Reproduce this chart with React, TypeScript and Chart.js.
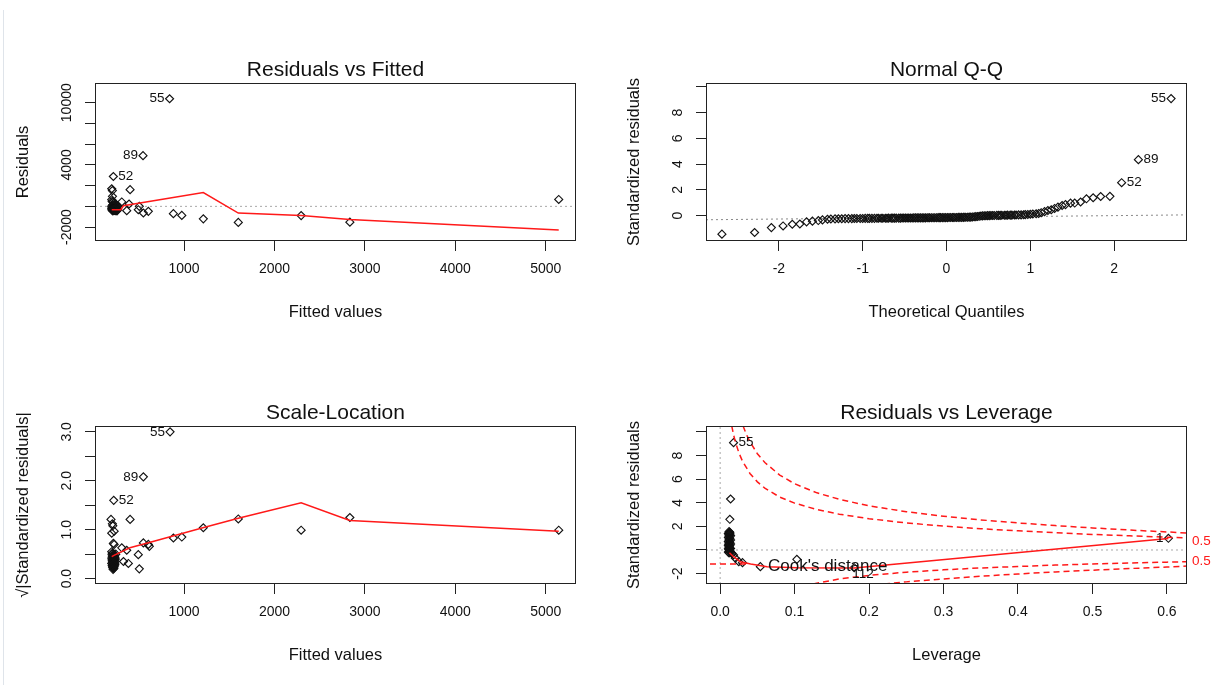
import React, { useEffect, useRef } from "react";
import { Chart, registerables } from "chart.js";

Chart.register(...registerables);

// ---------------- Residuals vs Fitted ----------------
const RVF_FITTED = [840, 546, 218, 200, 207, 403, 208, 200, 311, 392, 505, 366, 494, 550, 605, 882, 975, 1213, 1600, 2295, 2834, 5144,
  205, 215, 225, 240, 250, 210, 230, 260, 200, 218, 235, 248, 205, 222, 240, 255, 200, 212, 228, 245, 262, 208, 220, 232, 250,
  203, 215, 226, 238, 252, 266, 210, 222, 236, 248, 205, 218, 230, 244, 258, 212, 228, 240, 255, 270];
const RVF_RESID = [10380, 4890, 2880, 1700, 1520, 1610, 970, 650, 425, 230, 0, -415, -320, -640, -480, -705, -870, -1200, -1545, -889, -1524, 667,
  480, 420, 300, 250, 180, 150, 90, 60, 20, 0, -40, -80, -100, -120, -150, -170, -190, -200, -220, -230, -240, -250, -260, -270, -280,
  -290, -300, -305, -310, -320, -330, -335, -340, -350, -360, -370, -380, -395, -410, -430, -450, -300, -200, -100, 30];
const RVF_LABEL_IDS = ["55", "89", "52"];
const RVF_SMOOTH_X = [200, 300, 330, 1213, 1600, 2295, 2834, 5144];
const RVF_SMOOTH_Y = [-320, -320, 60, 1330, -650, -890, -1270, -2290];
const RVF_ZERO_X = [15, 5335];
const RVF_ZERO_Y = [0, 0];
const FITTED_X_TICKS = [1000, 2000, 3000, 4000, 5000];
const FITTED_X_LABELS = ["1000", "2000", "3000", "4000", "5000"];
const RVF_Y_TICKS = [-2000, 0, 2000, 4000, 6000, 8000, 10000];
const RVF_Y_LABELS = ["-2000", "", "", "4000", "", "", "10000"];

// ---------------- Normal Q-Q ----------------
const QQ_THEORETICAL = [
  -2.68, -2.29, -2.09, -1.95, -1.84, -1.75, -1.67, -1.60, -1.53, -1.48,
  -1.42, -1.38, -1.33, -1.29, -1.25, -1.21, -1.17, -1.13, -1.10, -1.07,
  -1.03, -1.00, -0.97, -0.94, -0.92, -0.89, -0.86, -0.83, -0.81, -0.78,
  -0.76, -0.73, -0.71, -0.69, -0.66, -0.64, -0.62, -0.60, -0.57, -0.55,
  -0.53, -0.51, -0.49, -0.47, -0.45, -0.43, -0.41, -0.39, -0.37, -0.35,
  -0.33, -0.31, -0.29, -0.27, -0.25, -0.23, -0.21, -0.20, -0.18, -0.16,
  -0.14, -0.12, -0.10, -0.08, -0.07, -0.05, -0.03, -0.01,
  0.01, 0.03, 0.05, 0.07, 0.08, 0.10, 0.12, 0.14, 0.16, 0.18,
  0.20, 0.21, 0.23, 0.25, 0.27, 0.29, 0.31, 0.33, 0.35, 0.37,
  0.39, 0.41, 0.43, 0.45, 0.47, 0.49, 0.51, 0.53, 0.55, 0.57,
  0.60, 0.62, 0.64, 0.66, 0.69, 0.71, 0.73, 0.76, 0.78, 0.81,
  0.83, 0.86, 0.89, 0.92, 0.94, 0.97, 1.00, 1.03, 1.07, 1.10,
  1.13, 1.17, 1.21, 1.25, 1.29, 1.33, 1.38, 1.42, 1.48, 1.53,
  1.60, 1.67, 1.75, 1.84, 1.95, 2.09, 2.29, 2.68];
const QQ_STD_RESID = [
  -1.45, -1.32, -0.94, -0.81, -0.68, -0.66, -0.49, -0.44, -0.39, -0.34, -0.29, -0.27, -0.26, -0.25, -0.25,
  -0.24, -0.24, -0.24, -0.23, -0.23, -0.23, -0.23, -0.22, -0.22, -0.22,
  -0.22, -0.22, -0.21, -0.21, -0.21, -0.21, -0.21, -0.21, -0.20, -0.20,
  -0.20, -0.20, -0.20, -0.20, -0.20, -0.19, -0.19, -0.19, -0.19, -0.19,
  -0.19, -0.19, -0.18, -0.18, -0.18, -0.18, -0.18, -0.18, -0.18, -0.18,
  -0.17, -0.17, -0.17, -0.17, -0.17, -0.17, -0.17, -0.16, -0.16, -0.16,
  -0.16, -0.16, -0.16, -0.16, -0.15, -0.15, -0.15, -0.15, -0.15, -0.15,
  -0.14, -0.14, -0.14, -0.14, -0.13, -0.13, -0.13, -0.12, -0.12, -0.11,
  -0.10, -0.09, -0.08, -0.06,
  -0.04, -0.03, -0.02, -0.02, -0.01, -0.01, 0.0, 0.0, 0.0, 0.01, 0.01, 0.01, 0.02, 0.02, 0.02,
  0.03, 0.03, 0.03, 0.04, 0.04, 0.05, 0.05, 0.06, 0.07, 0.08,
  0.10, 0.12, 0.14, 0.16, 0.22, 0.30, 0.39, 0.45, 0.55, 0.65, 0.78, 0.85, 0.96, 0.97, 1.05,
  1.30, 1.38, 1.48, 1.49, 2.55, 4.34, 9.09];
const QQ_LINE_X = [-2.87, 2.87];
const QQ_LINE_Y = [-0.33, 0.05];
const QQ_X_TICKS = [-2, -1, 0, 1, 2];
const QQ_X_LABELS = ["-2", "-1", "0", "1", "2"];
const QQ_Y_TICKS = [0, 2, 4, 6, 8, 10];
const QQ_Y_LABELS = ["0", "2", "4", "6", "8", ""];

// ---------------- Scale-Location ----------------
const SL_FITTED = [845, 550, 222, 192, 207, 212, 403, 200, 227, 218, 227, 311, 366, 330, 384, 505, 494, 550, 605, 616, 882, 975, 1213, 1600, 2295, 2834, 5144,
  200, 210, 220, 230, 205, 215, 225, 235, 200, 212, 222, 232, 203, 214, 226, 238, 207, 218, 229, 200,
  211, 222, 233, 205, 216, 227, 209, 220, 212, 224, 215, 230, 240, 245, 236, 203, 219];
const SL_SQRT_STD = [3.0, 2.08, 1.6, 1.21, 1.12, 1.08, 1.21, 0.93, 0.97, 0.72, 0.70, 0.63, 0.58, 0.35, 0.31, 0.20, 0.49, 0.73, 0.70, 0.66, 0.83, 0.85, 1.04, 1.22, 0.99, 1.25, 0.99,
  0.55, 0.52, 0.50, 0.48, 0.46, 0.45, 0.44, 0.43, 0.42, 0.41, 0.40, 0.39, 0.38, 0.37, 0.36, 0.35, 0.34, 0.33, 0.32, 0.31,
  0.30, 0.29, 0.28, 0.27, 0.26, 0.25, 0.24, 0.23, 0.22, 0.21, 0.19, 0.45, 0.40, 0.50, 0.30, 0.50, 0.47];
const SL_SMOOTH_X = [200, 230, 401, 656, 1208, 1611, 2295, 2834, 5144];
const SL_SMOOTH_Y = [0.45, 0.48, 0.63, 0.76, 1.04, 1.24, 1.55, 1.19, 0.97];
const SL_Y_TICKS = [0, 0.5, 1, 1.5, 2, 2.5, 3];
const SL_Y_LABELS = ["0.0", "", "1.0", "", "2.0", "", "3.0"];

// ---------------- Residuals vs Leverage ----------------
const RVL_LEVERAGE = [0.018, 0.014, 0.013, 0.602, 0.18, 0.103, 0.054, 0.030, 0.025, 0.0205, 0.018, 0.016,
  0.012, 0.013, 0.012, 0.013, 0.012, 0.013, 0.012, 0.012, 0.013, 0.012,
  0.012, 0.013, 0.012, 0.012, 0.013, 0.012, 0.012, 0.013, 0.012, 0.012,
  0.013, 0.012, 0.013, 0.014, 0.012, 0.015, 0.011, 0.011, 0.011, 0.011,
  0.011, 0.011, 0.014, 0.014, 0.014, 0.014];
const RVL_STD_RESID = [9.09, 4.32, 2.60, 0.99, -1.50, -0.79, -1.41, -1.07, -0.99, -0.70, -0.42, -0.30,
  1.55, 1.50, 1.46, 1.40, 1.35, 1.30, 1.22, 1.12, 1.00, 0.90,
  0.78, 0.65, 0.55, 0.45, 0.38, 0.30, 0.22, 0.15, 0.08, 0.02,
  -0.04, -0.10, -0.15, -0.20, -0.24, -0.26, -0.18, 0.10, 0.40, 0.70,
  1.05, 1.38, 1.20, 0.85, 0.50, 0.12];
const RVL_SMOOTH_X = [0.0125, 0.018, 0.027, 0.041, 0.063, 0.103, 0.18, 0.602];
const RVL_SMOOTH_Y = [-0.23, -0.57, -0.99, -1.19, -1.41, -1.50, -1.52, 0.97];
const COOK_UP_05_LEV = [0.0156, 0.018, 0.02, 0.025, 0.03, 0.04, 0.05, 0.06, 0.08, 0.1, 0.13, 0.16, 0.2, 0.25, 0.3, 0.35, 0.4, 0.45, 0.5, 0.55, 0.6, 0.627];
const COOK_UP_05_STD = [10.5, 9.77, 9.26, 8.26, 7.52, 6.48, 5.77, 5.24, 4.48, 3.97, 3.42, 3.03, 2.65, 2.29, 2.02, 1.80, 1.62, 1.46, 1.32, 1.20, 1.08, 1.02];
const COOK_UP_1_LEV = [0.0308, 0.035, 0.04, 0.05, 0.06, 0.08, 0.1, 0.13, 0.16, 0.2, 0.25, 0.3, 0.35, 0.4, 0.45, 0.5, 0.55, 0.6, 0.627];
const COOK_UP_1_STD = [10.5, 9.82, 9.17, 8.15, 7.41, 6.34, 5.61, 4.84, 4.29, 3.74, 3.24, 2.86, 2.55, 2.29, 2.07, 1.87, 1.69, 1.53, 1.44];
const COOK_LO_05_LEV = [0.125, 0.16, 0.2, 0.25, 0.3, 0.35, 0.4, 0.45, 0.5, 0.55, 0.6, 0.627];
const COOK_LO_05_STD = [-2.88, -2.45, -2.15, -1.88, -1.68, -1.52, -1.40, -1.28, -1.18, -1.10, -1.03, -0.99];
const COOK_LO_1_LEV = [0.22, 0.25, 0.3, 0.35, 0.4, 0.45, 0.5, 0.55, 0.6, 0.627];
const COOK_LO_1_STD = [-2.88, -2.70, -2.45, -2.22, -2.03, -1.86, -1.71, -1.57, -1.44, -1.36];
const COOK_LABELS = ["0.5", "0.5"];
const COOK_LABEL_Y = [0.72, -0.98];
const RVL_X_TICKS = [0, 0.1, 0.2, 0.3, 0.4, 0.5, 0.6];
const RVL_X_LABELS = ["0.0", "0.1", "0.2", "0.3", "0.4", "0.5", "0.6"];
const RVL_Y_TICKS = [-2, 0, 2, 4, 6, 8, 10];
const RVL_Y_LABELS = ["-2", "", "2", "4", "6", "8", ""];

// ---------------- styling ----------------
const FONT = '"Liberation Sans", Arial, Helvetica, sans-serif';
const INK = "#111111";
const AXIS = "#222222";
const RED = "rgb(255,25,25)";
const GRAY = "#a8a8a8";
const W = 612;
const H = 342;

const pts = (xs: number[], ys: number[]) => xs.map((x, i) => ({ x, y: ys[i] }));
const scatterDs = (xs: number[], ys: number[]) => ({
  data: pts(xs, ys), showLine: false, pointStyle: "rectRot", pointRadius: 4, pointBorderWidth: 1.15,
  pointBorderColor: INK, pointBackgroundColor: "rgba(0,0,0,0)", borderColor: INK, backgroundColor: "rgba(0,0,0,0)",
});
const lineDs = (xs: number[], ys: number[], color: string, width: number, dash: number[] = []) => ({
  data: pts(xs, ys), showLine: true, borderColor: color, borderWidth: width, borderDash: dash,
  pointRadius: 0, fill: false, tension: 0, backgroundColor: color,
});

function makeConfig(p: any) {
  const font = (size: number) => ({ family: FONT, size, weight: "normal", lineHeight: 1.2 });
  const grid = { display: true, drawOnChartArea: false, drawTicks: true, tickLength: 10, tickColor: AXIS, tickWidth: 1, color: AXIS };
  const plugin = {
    id: "rplot",
    afterDraw(chart: any) {
      const { ctx, chartArea: a, scales } = chart;
      const xs = scales.x, ys = scales.y;
      ctx.save();
      ctx.setLineDash([]);
      ctx.strokeStyle = AXIS;
      ctx.lineWidth = 1;
      ctx.strokeRect(Math.round(a.left) + 0.5, Math.round(a.top) + 0.5, Math.round(a.right - a.left) - 1, Math.round(a.bottom - a.top) - 1);
      ctx.fillStyle = INK;
      ctx.font = `21px ${FONT}`;
      ctx.textAlign = "center";
      ctx.textBaseline = "alphabetic";
      ctx.fillText(p.title, (a.left + a.right) / 2, a.top - 7);
      ctx.font = `14px ${FONT}`;
      p.yTicks.forEach((v: number, i: number) => {
        const t = p.yLabels[i];
        if (!t) return;
        const py = ys.getPixelForValue(v);
        ctx.save();
        ctx.translate(a.left - 24, py);
        ctx.rotate(-Math.PI / 2);
        ctx.textAlign = "center";
        ctx.textBaseline = "alphabetic";
        ctx.fillText(t, 0, 0);
        ctx.restore();
      });
      ctx.font = `13.5px ${FONT}`;
      ctx.textBaseline = "middle";
      p.pointLabels.forEach((l: any) => {
        const px = xs.getPixelForValue(l.x), py = ys.getPixelForValue(l.y);
        if (l.side === "left") { ctx.textAlign = "right"; ctx.fillText(l.text, px - 5, py); }
        else if (l.side === "right") { ctx.textAlign = "left"; ctx.fillText(l.text, px + 5, py); }
        else { ctx.textAlign = "left"; ctx.fillText(l.text, px - 2, py + 7); }
      });
      if (p.legendText) {
        ctx.strokeStyle = RED;
        ctx.lineWidth = 1.5;
        ctx.setLineDash([6, 4]);
        ctx.beginPath();
        ctx.moveTo(a.left + 4, a.bottom - 20);
        ctx.lineTo(a.left + 40, a.bottom - 20);
        ctx.stroke();
        ctx.setLineDash([]);
        ctx.fillStyle = INK;
        ctx.font = `17px ${FONT}`;
        ctx.textAlign = "left";
        ctx.textBaseline = "middle";
        ctx.fillText(p.legendText, a.left + 62, a.bottom - 18);
      }
      (p.sideLabels || []).forEach((s: any) => {
        ctx.fillStyle = RED;
        ctx.font = `13.5px ${FONT}`;
        ctx.textAlign = "left";
        ctx.textBaseline = "middle";
        ctx.fillText(s.text, a.right + 5, ys.getPixelForValue(s.y));
      });
      ctx.restore();
    },
  };
  return {
    type: "scatter",
    data: { datasets: p.datasets },
    options: {
      animation: false, responsive: false, maintainAspectRatio: false, events: [],
      layout: { padding: { left: 0, right: 36, top: 83, bottom: 0 }, autoPadding: false },
      plugins: { legend: { display: false }, tooltip: { enabled: false }, title: { display: false } },
      scales: {
        x: {
          type: "linear", position: "bottom", min: p.xMin, max: p.xMax,
          afterBuildTicks: (s: any) => { s.ticks = p.xTicks.map((v: number) => ({ value: v })); },
          afterFit: (s: any) => { s.height = 101; },
          ticks: {
            autoSkip: false, maxRotation: 0, minRotation: 0, padding: 10, color: INK, font: font(14),
            callback: (v: any) => { const i = p.xTicks.indexOf(v); return i >= 0 ? p.xLabels[i] : ""; },
          },
          grid, border: { display: false },
          title: { display: true, text: p.xTitle, color: INK, font: font(16.5), padding: { top: 0, bottom: 20 } },
        },
        y: {
          type: "linear", position: "left", min: p.yMin, max: p.yMax,
          afterBuildTicks: (s: any) => { s.ticks = p.yTicks.map((v: number) => ({ value: v })); },
          afterFit: (s: any) => { s.width = 95; },
          ticks: { display: false },
          grid, border: { display: false },
          title: { display: true, text: p.yTitle, color: INK, font: font(16.5), padding: { top: 14, bottom: 0 } },
        },
      },
    },
    plugins: [plugin],
  };
}

const SPEC_RVF = {
  title: "Residuals vs Fitted", xTitle: "Fitted values", yTitle: "Residuals",
  xMin: 15, xMax: 5335, yMin: -3340, yMax: 11900,
  xTicks: FITTED_X_TICKS, xLabels: FITTED_X_LABELS, yTicks: RVF_Y_TICKS, yLabels: RVF_Y_LABELS,
  datasets: [
    lineDs(RVF_SMOOTH_X, RVF_SMOOTH_Y, RED, 1.5),
    scatterDs(RVF_FITTED, RVF_RESID),
    lineDs(RVF_ZERO_X, RVF_ZERO_Y, GRAY, 1, [2, 3]),
  ],
  pointLabels: [
    { x: RVF_FITTED[0], y: RVF_RESID[0], text: RVF_LABEL_IDS[0], side: "left" },
    { x: RVF_FITTED[1], y: RVF_RESID[1], text: RVF_LABEL_IDS[1], side: "left" },
    { x: RVF_FITTED[2], y: RVF_RESID[2], text: RVF_LABEL_IDS[2], side: "right" },
  ],
};

const N = QQ_STD_RESID.length;
const SPEC_QQ = {
  title: "Normal Q-Q", xTitle: "Theoretical Quantiles", yTitle: "Standardized residuals",
  xMin: -2.87, xMax: 2.87, yMin: -1.98, yMax: 10.3,
  xTicks: QQ_X_TICKS, xLabels: QQ_X_LABELS, yTicks: QQ_Y_TICKS, yLabels: QQ_Y_LABELS,
  datasets: [
    scatterDs(QQ_THEORETICAL, QQ_STD_RESID),
    lineDs(QQ_LINE_X, QQ_LINE_Y, "#888888", 1, [2, 3]),
  ],
  pointLabels: [
    { x: QQ_THEORETICAL[N - 1], y: QQ_STD_RESID[N - 1], text: "55", side: "left" },
    { x: QQ_THEORETICAL[N - 2], y: QQ_STD_RESID[N - 2], text: "89", side: "right" },
    { x: QQ_THEORETICAL[N - 3], y: QQ_STD_RESID[N - 3], text: "52", side: "right" },
  ],
};

const SPEC_SL = {
  title: "Scale-Location", xTitle: "Fitted values", yTitle: "\u221A|Standardized residuals|",
  xMin: 15, xMax: 5335, yMin: -0.11, yMax: 3.12,
  xTicks: FITTED_X_TICKS, xLabels: FITTED_X_LABELS, yTicks: SL_Y_TICKS, yLabels: SL_Y_LABELS,
  datasets: [
    lineDs(SL_SMOOTH_X, SL_SMOOTH_Y, RED, 1.5),
    scatterDs(SL_FITTED, SL_SQRT_STD),
  ],
  pointLabels: [
    { x: SL_FITTED[0], y: SL_SQRT_STD[0], text: "55", side: "left" },
    { x: SL_FITTED[1], y: SL_SQRT_STD[1], text: "89", side: "left" },
    { x: SL_FITTED[2], y: SL_SQRT_STD[2], text: "52", side: "right" },
  ],
};

const SPEC_RVL = {
  title: "Residuals vs Leverage", xTitle: "Leverage", yTitle: "Standardized residuals",
  xMin: -0.019, xMax: 0.627, yMin: -2.88, yMax: 10.5,
  xTicks: RVL_X_TICKS, xLabels: RVL_X_LABELS, yTicks: RVL_Y_TICKS, yLabels: RVL_Y_LABELS,
  datasets: [
    lineDs(COOK_UP_05_LEV, COOK_UP_05_STD, RED, 1.5, [6, 4]),
    lineDs(COOK_UP_1_LEV, COOK_UP_1_STD, RED, 1.5, [6, 4]),
    lineDs(COOK_LO_05_LEV, COOK_LO_05_STD, RED, 1.5, [6, 4]),
    lineDs(COOK_LO_1_LEV, COOK_LO_1_STD, RED, 1.5, [6, 4]),
    lineDs(RVL_SMOOTH_X, RVL_SMOOTH_Y, RED, 1.5),
    scatterDs(RVL_LEVERAGE, RVL_STD_RESID),
    lineDs([-0.019, 0.627], [0, 0], GRAY, 1, [2, 3]),
    lineDs([0, 0], [-2.88, 10.5], GRAY, 1, [2, 3]),
  ],
  pointLabels: [
    { x: RVL_LEVERAGE[0], y: RVL_STD_RESID[0], text: "55", side: "right" },
    { x: RVL_LEVERAGE[3], y: RVL_STD_RESID[3], text: "1", side: "left" },
    { x: RVL_LEVERAGE[4], y: RVL_STD_RESID[4], text: "112", side: "below" },
  ],
  legendText: "Cook's distance",
  sideLabels: COOK_LABELS.map((t, i) => ({ text: t, y: COOK_LABEL_Y[i] })),
};

function Panel({ left, top, spec }: { left: number; top: number; spec: any }) {
  const ref = useRef<HTMLCanvasElement>(null);
  useEffect(() => {
    const chart = new Chart(ref.current as HTMLCanvasElement, makeConfig(spec) as any);
    return () => chart.destroy();
  }, [spec]);
  return (
    <div style={{ position: "absolute", left, top, width: W, height: H }}>
      <canvas ref={ref} width={W} height={H} style={{ width: W, height: H, display: "block" }} />
    </div>
  );
}

export default function App() {
  return (
    <div style={{ position: "absolute", left: 0, top: 0, width: 1224, height: 685, background: "#fff", overflow: "hidden" }}>
      <div style={{ position: "absolute", left: 3, top: 10, width: 1, height: 675, background: "#dfe4ea" }} />
      <Panel left={0} top={0} spec={SPEC_RVF} />
      <Panel left={611} top={0} spec={SPEC_QQ} />
      <Panel left={0} top={343} spec={SPEC_SL} />
      <Panel left={611} top={343} spec={SPEC_RVL} />
    </div>
  );
}
